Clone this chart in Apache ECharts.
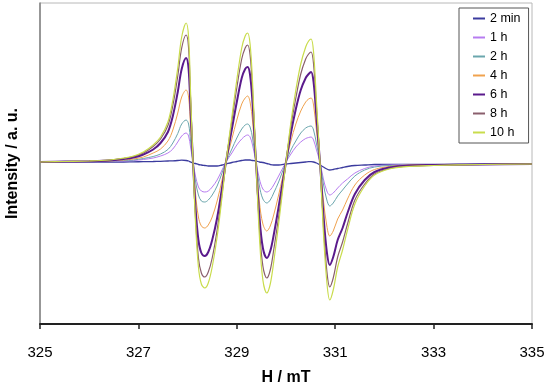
<!DOCTYPE html>
<html>
<head>
<meta charset="utf-8">
<script src="https://cdn.jsdelivr.net/npm/echarts@6/dist/echarts.min.js"></script>
<style>
html,body{margin:0;padding:0;background:#fff;}
#chart{width:550px;height:387px;}
</style>
</head>
<body>
<div id="chart"></div>
<script>
// Field values (mT)
var fieldH = [325.0, 325.5, 326.0, 326.4, 326.7, 326.9, 327.1, 327.3, 327.45, 327.6, 327.7, 327.8, 327.88, 327.97, 328.02, 328.06, 328.11, 328.16, 328.22, 328.28, 328.35, 328.42, 328.5, 328.6, 328.7, 328.78, 328.9, 329.0, 329.1, 329.17, 329.22, 329.27, 329.32, 329.39, 329.46, 329.53, 329.61, 329.68, 329.75, 329.85, 330.0, 330.1, 330.2, 330.3, 330.4, 330.46, 330.51, 330.56, 330.62, 330.69, 330.76, 330.83, 330.89, 330.96, 331.05, 331.15, 331.25, 331.4, 331.6, 331.8, 332.1, 332.5, 333.0, 334.0, 335.0];

var seriesNames = ['2 min', '1 h', '2 h', '4 h', '6 h', '8 h', '10 h'];

var val2min = [0, 0, 0, 0, 0, 0.2, 0.3, 0.5, 0.7, 1, 1.2, 1.5, 1.8, 1.5, 1, 0, -1, -1.5, -2.5, -3, -3.5, -4, -4, -4, -3, -2, -0.5, 0.5, 1.5, 2, 2, 2, 1.5, 1, 0, -0.5, -1.5, -2.5, -3, -3, -2, -1.5, -1, -0.5, 0, 0.3, 0.3, 0, -1, -3, -5, -7, -8, -7.5, -6.5, -5.5, -4.5, -3.5, -3, -2.5, -2.5, -2.5, -2.5, -2, -2];
var val1h = [0, 0.1, 0.3, 0.5, 1, 1.5, 2.5, 4, 6, 9, 13, 20, 26, 29, 26, 15, 0, -14, -25, -29, -30, -29, -25, -18, -8, 0, 9, 17, 23, 26, 27, 25, 17, 0, -17, -27, -30, -28, -23, -14, 0, 8, 15, 20, 23.5, 24.5, 25, 22, 12, 0, -17, -29, -33, -31, -26, -21, -17, -11, -6.5, -4, -3, -2.5, -2.5, -2.5, -2];
var val2h = [0, 0.2, 0.4, 0.8, 1.5, 2, 3.5, 5.5, 8, 12.5, 19, 28.5, 38, 42, 38, 21, 0, -19, -33, -39, -40, -38, -33, -24, -11, 0, 13, 24, 33, 37, 38, 35, 24, 0, -24, -37, -41, -38, -31, -20, 0, 12, 21, 29, 34, 35.5, 36, 32, 18, 0, -22, -38, -44, -41, -34, -28, -22, -14, -8, -5, -3.5, -3, -2.5, -2.5, -2];
var val4h = [0, 0.3, 0.5, 1, 2, 3, 5, 9, 13, 21, 32, 49, 65, 72, 65, 36, 0, -31, -55, -64, -66, -63, -55, -39, -18, 0, 23, 42, 58, 64, 66, 60, 41, 0, -40, -62, -69, -64, -53, -33, 0, 21, 38, 51, 60, 63, 64, 57, 31, 0, -38, -64, -74, -69, -57, -48, -37, -23, -13, -7.5, -4.5, -3, -2.5, -2.5, -2];
var val6h = [0, 0.4, 0.8, 1.5, 3, 4.5, 7.5, 12.5, 19, 30, 46, 70, 93, 104, 93, 52, 0, -45, -78, -91, -94, -90, -78, -56, -26, 0, 33, 60, 84, 93, 95, 87, 59, 0, -55, -86, -96, -89, -73, -45, 0, 29, 53, 72, 84, 88, 90, 80, 44, 0, -52, -90, -103, -95, -78, -66, -51, -32, -18, -10, -5.5, -3.5, -3, -2.5, -2];
var val8h = [0, 0.5, 1, 2, 3.5, 5.5, 9, 15.5, 23, 36.5, 56.5, 86, 114, 127, 114, 64, 0, -55, -96, -111, -115, -110, -96, -68, -32, 0, 41, 74, 103, 114, 117, 107, 72, 0, -66, -104, -116, -108, -88, -55, 0, 36, 64, 88, 103, 108, 110, 98, 54, 0, -63, -109, -125, -116, -95, -80, -62, -38, -22, -12, -6.5, -4, -3.5, -2.5, -2];
var val10h = [0, 0.5, 1, 2, 4, 6, 10, 17, 25, 40, 62, 94, 125, 139, 125, 70, 0, -60, -105, -122, -126, -121, -105, -75, -35, 0, 45, 82, 114, 126, 129, 118, 80, 0, -75, -118, -131, -122, -100, -62, 0, 40, 72, 98, 115, 121, 123, 110, 60, 0, -70, -120, -138, -128, -105, -88, -68, -42, -24, -13, -7, -4.5, -3.5, -2.5, -2];

var xTicks = [325, 327, 329, 331, 333, 335];

var allValues = [val2min, val1h, val2h, val4h, val6h, val8h, val10h];
var colors = ['#3b3b9e', '#b77cf0', '#6aa6ad', '#f0a24e', '#5a1a8c', '#8a5f6d', '#c9dc4c'];
var widths = [1.3, 1, 1, 1, 2, 1.2, 1.2];

var series = seriesNames.map(function (name, i) {
  return {
    name: name,
    type: 'line',
    data: fieldH.map(function (h, j) { return [h, allValues[i][j]]; }),
    showSymbol: false,
    smooth: 0.35,
    lineStyle: { color: colors[i], width: widths[i] },
    itemStyle: { color: colors[i] },
    animation: false
  };
});

var FONT = 'Liberation Sans, Arial, sans-serif';
var chart = echarts.init(document.getElementById('chart'), null, { renderer: 'canvas' });
chart.setOption({
  backgroundColor: '#ffffff',
  animation: false,
  textStyle: { fontFamily: FONT },
  grid: { left: 40, right: 18, top: 3, bottom: 63, containLabel: false, outerBoundsMode: 'none', show: true, borderColor: '#b8b8b8', borderWidth: 1 },
  legend: {
    orient: 'vertical',
    left: 459,
    top: 8,
    padding: [4, 8, 4, 14],
    itemWidth: 12,
    itemHeight: 2,
    itemGap: 6,
    icon: 'rect',
    backgroundColor: '#ffffff',
    borderColor: '#555555',
    borderWidth: 1,
    textStyle: { color: '#000', fontSize: 12.5, fontFamily: FONT },
    data: seriesNames
  },
  xAxis: {
    type: 'value',
    min: xTicks[0],
    max: xTicks[xTicks.length - 1],
    interval: 2,
    name: 'H / mT',
    nameLocation: 'middle',
    nameGap: 46,
    nameTextStyle: { fontSize: 16, fontWeight: 'bold', color: '#000', fontFamily: FONT },
    axisLine: { onZero: false, lineStyle: { color: '#222', width: 2 } },
    axisTick: { show: true, length: 5, lineStyle: { color: '#222', width: 1.5 } },
    axisLabel: { fontSize: 15, color: '#000', margin: 21, fontFamily: FONT },
    splitLine: { show: false }
  },
  yAxis: {
    type: 'value',
    min: -162,
    max: 159,
    name: 'Intensity / a. u.',
    nameLocation: 'middle',
    nameGap: 19,
    nameTextStyle: { fontSize: 16, fontWeight: 'bold', color: '#000', fontFamily: FONT },
    axisLine: { show: true, lineStyle: { color: '#808080', width: 1.5 } },
    axisTick: { show: false },
    axisLabel: { show: false },
    splitLine: { show: false }
  },
  series: series
});
</script>
</body>
</html>
